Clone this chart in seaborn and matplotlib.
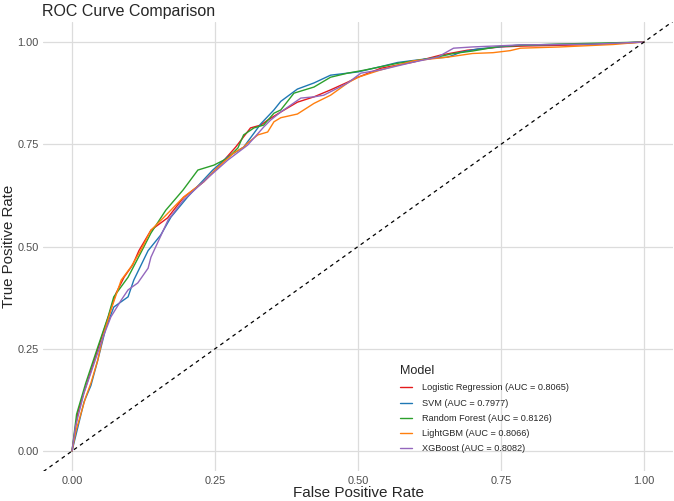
import pandas as pd
import matplotlib
matplotlib.use("Agg")
import matplotlib.pyplot as plt
import seaborn as sns

# model names and AUC values from the legend
models = ["Logistic Regression", "SVM", "Random Forest", "LightGBM", "XGBoost"]
aucs = [0.8065, 0.7977, 0.8126, 0.8066, 0.8082]
colors = ["#E41A1C", "#1F78B4", "#2CA02C", "#FF7F0E", "#9467BD"]

# roc points
lr_fpr = [0, 0.01, 0.021, 0.039, 0.056, 0.077, 0.091, 0.106, 0.117, 0.138, 0.167, 0.195, 0.23, 0.255,
          0.286, 0.312, 0.33, 0.342, 0.365, 0.394, 0.423, 0.452, 0.482, 0.50, 0.54, 0.597, 0.644, 0.691,
          0.714, 0.749, 0.784, 0.883, 0.953, 1.0]
lr_tpr = [0, 0.093, 0.144, 0.222, 0.296, 0.386, 0.425, 0.455, 0.49, 0.54, 0.57, 0.62, 0.658, 0.694,
          0.743, 0.79, 0.797, 0.809, 0.829, 0.853, 0.866, 0.883, 0.902, 0.914, 0.936, 0.951, 0.968, 0.98,
          0.983, 0.988, 0.99, 0.993, 0.997, 1.0]

svm_fpr = [0, 0.007, 0.021, 0.033, 0.045, 0.059, 0.073, 0.098, 0.108, 0.133, 0.155, 0.173, 0.202, 0.246,
           0.272, 0.30, 0.318, 0.33, 0.353, 0.365, 0.394, 0.423, 0.452, 0.482, 0.50, 0.54, 0.569, 0.597,
           0.627, 0.656, 0.667, 0.679, 0.709, 0.784, 0.911, 1.0]
svm_tpr = [0, 0.04, 0.12, 0.16, 0.222, 0.30, 0.352, 0.377, 0.418, 0.49, 0.528, 0.572, 0.621, 0.687,
           0.719, 0.743, 0.777, 0.80, 0.834, 0.855, 0.885, 0.90, 0.919, 0.924, 0.927, 0.94, 0.95, 0.955,
           0.96, 0.963, 0.968, 0.975, 0.983, 0.993, 0.995, 1.0]

rf_fpr = [0, 0.008, 0.024, 0.045, 0.063, 0.073, 0.098, 0.12, 0.138, 0.164, 0.194, 0.22, 0.248, 0.272,
          0.29, 0.30, 0.318, 0.335, 0.353, 0.365, 0.388, 0.423, 0.452, 0.482, 0.51, 0.569, 0.627, 0.667,
          0.70, 0.75, 0.85, 1.0]
rf_tpr = [0, 0.09, 0.166, 0.254, 0.328, 0.377, 0.425, 0.484, 0.533, 0.589, 0.638, 0.687, 0.699, 0.716,
          0.741, 0.773, 0.79, 0.797, 0.826, 0.834, 0.875, 0.89, 0.914, 0.924, 0.931, 0.948, 0.96, 0.972,
          0.978, 0.99, 0.995, 1.0]

lgb_fpr = [0, 0.007, 0.024, 0.033, 0.045, 0.054, 0.068, 0.086, 0.103, 0.12, 0.138, 0.161, 0.195, 0.23,
           0.255, 0.283, 0.30, 0.307, 0.325, 0.342, 0.353, 0.365, 0.394, 0.423, 0.452, 0.482, 0.50, 0.54,
           0.597, 0.656, 0.70, 0.736, 0.766, 0.784, 0.853, 0.946, 0.98, 1.0]
lgb_tpr = [0, 0.05, 0.132, 0.166, 0.222, 0.279, 0.345, 0.418, 0.45, 0.49, 0.54, 0.572, 0.621, 0.658,
           0.694, 0.729, 0.743, 0.753, 0.773, 0.78, 0.805, 0.815, 0.824, 0.85, 0.87, 0.90, 0.914, 0.932,
           0.954, 0.963, 0.972, 0.974, 0.979, 0.985, 0.988, 0.994, 0.998, 1.0]

xgb_fpr = [0, 0.006, 0.021, 0.04, 0.056, 0.068, 0.086, 0.098, 0.115, 0.133, 0.138, 0.168, 0.195, 0.243,
           0.272, 0.307, 0.335, 0.347, 0.365, 0.40, 0.423, 0.44, 0.464, 0.482, 0.505, 0.54, 0.597, 0.639,
           0.667, 0.70, 0.784, 0.911, 1.0]
xgb_tpr = [0, 0.06, 0.142, 0.22, 0.285, 0.328, 0.369, 0.394, 0.411, 0.447, 0.474, 0.565, 0.614, 0.675,
           0.711, 0.748, 0.792, 0.809, 0.829, 0.863, 0.866, 0.870, 0.887, 0.90, 0.924, 0.932, 0.951, 0.963,
           0.985, 0.988, 0.993, 0.995, 1.0]

curves = [(lr_fpr, lr_tpr), (svm_fpr, svm_tpr), (rf_fpr, rf_tpr), (lgb_fpr, lgb_tpr), (xgb_fpr, xgb_tpr)]

# long format frame for seaborn
frames = []
for name, auc, (f, t) in zip(models, aucs, curves):
    label = f"{name} (AUC = {auc:.4f})"
    frames.append(pd.DataFrame({"fpr": f, "tpr": t, "Model": label}))
df = pd.concat(frames, ignore_index=True)
labels = df["Model"].unique().tolist()

sns.set_style("whitegrid")
plt.rcParams["font.family"] = ["Liberation Sans", "DejaVu Sans"]

fig = plt.figure(figsize=(6.74, 5.01), dpi=100)
ax = fig.add_axes([0.0644, 0.0589, 0.9336, 0.898])

sns.lineplot(data=df, x="fpr", y="tpr", hue="Model", hue_order=labels, palette=colors,
             sort=False, estimator=None, units="Model", linewidth=1.0, ax=ax)
ax.axline((0, 0), slope=1, color="black", linestyle=(0, (3, 3)), linewidth=0.9)

ax.set_xlim(-0.05, 1.05)
ax.set_ylim(-0.05, 1.05)
ticks = [0, 0.25, 0.5, 0.75, 1.0]
ax.set_xticks(ticks)
ax.set_yticks(ticks)
ax.set_xticklabels([f"{v:.2f}" for v in ticks])
ax.set_yticklabels([f"{v:.2f}" for v in ticks])
ax.tick_params(axis="both", labelsize=7.9, labelcolor="#4D4D4D", length=0, pad=3.5)
ax.grid(True, color="#DCDCDC", linewidth=0.9)
for s in ax.spines.values():
    s.set_visible(False)

ax.set_xlabel("False Positive Rate", fontsize=11, labelpad=0)
ax.set_ylabel("True Positive Rate", fontsize=10.8, labelpad=0.5)
fig.text(0.0625, 0.978, "ROC Curve Comparison", fontsize=11.5, ha="left", va="center")

leg = ax.legend(title="Model", loc="lower left", bbox_to_anchor=(0.561, 0.032), frameon=False,
                fontsize=6.6, title_fontsize=9.1, handlelength=1.35, labelspacing=0.68,
                handletextpad=1.0, borderaxespad=0)
leg._legend_box.align = "left"

fig.savefig("out.png", dpi=100)
